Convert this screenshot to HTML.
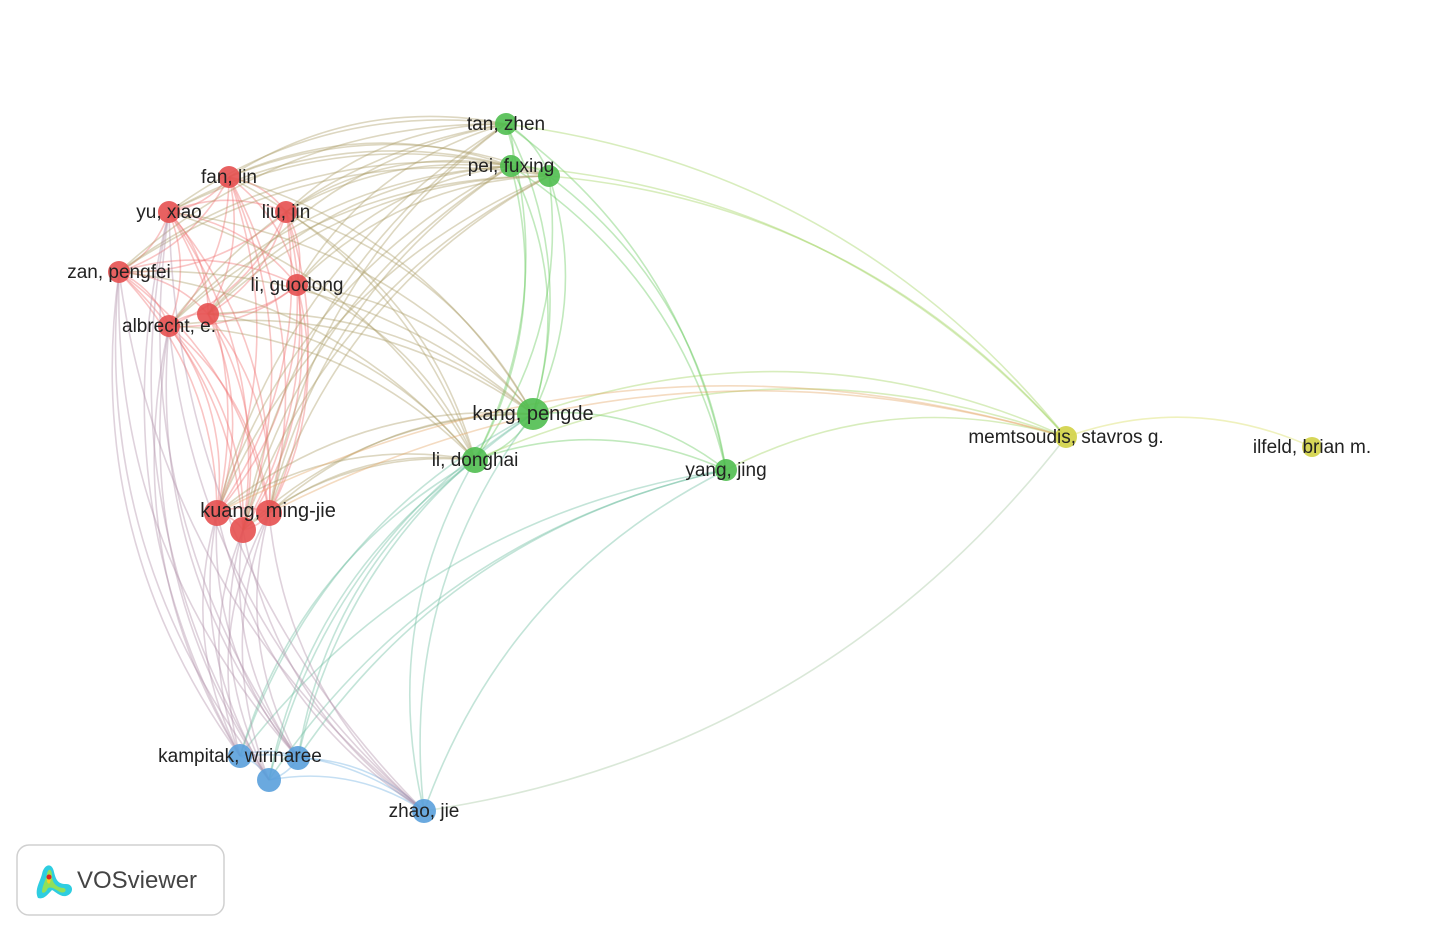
<!DOCTYPE html>
<html><head><meta charset="utf-8">
<style>
html,body{margin:0;padding:0;background:#fff;}
svg{display:block;}
text{font-family:"Liberation Sans",sans-serif;font-size:19px;fill:#222;}
</style></head>
<body>
<svg id="s" width="1431" height="934" viewBox="0 0 1431 934" xmlns="http://www.w3.org/2000/svg">
<g id="edges" fill="none"></g>
<g id="nodes"></g>
<g id="labels"></g>
<rect x="17" y="845" width="207" height="70" rx="12" fill="#fff" stroke="#d0d0d0" stroke-width="1.5"/>
<g transform="translate(34,860)">
<path d="M4,38 C0,30 6,22 8,14 C10,4 18,2 20,12 C22,20 24,24 32,24 C40,24 40,34 32,36 C26,37 22,32 18,30 C14,34 10,40 4,38Z" fill="#2ecde0"/>
<path d="M8,32 C8,26 12,20 13,14 C14,8 18,8 18,16 C18,22 22,28 30,28 C34,30 30,34 26,32 C22,30 18,26 14,28 C12,32 10,34 8,32Z" fill="#8fe05a"/>
<path d="M13,22 C13,18 15,12 16,14 C17,18 17,22 15,24Z" fill="#f5d020"/>
<circle cx="15" cy="17" r="2.5" fill="#e02020"/>
</g>
<text x="77" y="888" style="font-size:24px;fill:#444">VOSviewer</text>
</svg>
<script>
var N={
fan:[229,177,'r',11],yu:[169,212,'r',11],liu:[286,212,'r',11],zan:[119,272,'r',11],gd:[297,285,'r',11],al:[169,326,'r',11],r2:[208,314,'r',11],
k1:[217,513,'r',13],k2:[269,513,'r',13],k3:[243,530,'r',13],
tan:[506,124,'g',11],pei:[511,166,'g',11],p2:[549,176,'g',11],kang:[533,414,'g',16],ld:[475,460,'g',13],yang:[726,470,'g',11],
mem:[1066,437,'y',11],ilf:[1312,447,'y',10],
b1:[240,756,'b',12],b2:[298,758,'b',12],b3:[269,780,'b',12],zhao:[424,811,'b',12]};
var C={r:[240,110,110],g:[100,200,90],y:[215,220,90],b:[110,175,225]};
var red=['fan','yu','liu','zan','gd','al','r2','k1','k2','k3'],grn=['tan','pei','p2','kang','ld','yang'],blu=['b1','b2','b3','zhao'];
var E=[];
function all(a){for(var i=0;i<a.length;i++)for(var j=i+1;j<a.length;j++)E.push([a[i],a[j]]);}
all(red);all(grn);all(blu);
red.forEach(function(r){['tan','pei','p2','kang','ld'].forEach(function(g){E.push([r,g]);});});
['tan','pei','p2','kang','ld','yang'].forEach(function(g){E.push([g,'mem']);});
E.push(['mem','ilf'],['mem','zhao'],['k1','mem'],['k2','mem']);
blu.forEach(function(b){['kang','ld','yang','k1','k2','k3','al','zan','yu'].forEach(function(g){E.push([b,g]);});});
var eg=document.getElementById('edges'),ng=document.getElementById('nodes'),lg=document.getElementById('labels');
var ns='http://www.w3.org/2000/svg';
E.forEach(function(e){
 var a=N[e[0]],b=N[e[1]];var dx=b[0]-a[0],dy=b[1]-a[1];
 var mx=(a[0]+b[0])/2,my=(a[1]+b[1])/2;var k=0.2;
 var cx=mx+dy*k,cy=my-dx*k;
 var ca=C[a[2]],cb=C[b[2]];
 var c='rgb('+Math.round((ca[0]+cb[0])/2)+','+Math.round((ca[1]+cb[1])/2)+','+Math.round((ca[2]+cb[2])/2)+')';
 var p=document.createElementNS(ns,'path');
 p.setAttribute('d','M'+a[0]+','+a[1]+' Q'+cx+','+cy+' '+b[0]+','+b[1]);
 p.setAttribute('stroke',c);p.setAttribute('stroke-opacity','0.4');p.setAttribute('stroke-width','1.6');
 eg.appendChild(p);
});
for(var k in N){var n=N[k],c=C[n[2]];
 var cc=n[2]=='r'?'230,80,80':n[2]=='g'?'80,190,80':n[2]=='y'?'210,210,70':'90,160,220';
 var ci=document.createElementNS(ns,'circle');
 ci.setAttribute('cx',n[0]);ci.setAttribute('cy',n[1]);ci.setAttribute('r',n[3]);
 ci.setAttribute('fill','rgb('+cc+')');ci.setAttribute('fill-opacity','0.9');ng.appendChild(ci);}
var L=[['tan, zhen',506,124],['pei, fuxing',511,166],['fan, lin',229,177],['yu, xiao',169,212],['liu, jin',286,212],['zan, pengfei',119,272],['li, guodong',297,285],['albrecht, e.',169,326],['kang, pengde',533,414],['li, donghai',475,460],['yang, jing',726,470],['memtsoudis, stavros g.',1066,437],['ilfeld, brian m.',1312,447],['kuang, ming-jie',268,511],['kampitak, wirinaree',240,756],['zhao, jie',424,811]];
L.forEach(function(l){var t=document.createElementNS(ns,'text');t.setAttribute('x',l[1]);t.setAttribute('y',l[2]+6);t.setAttribute('text-anchor','middle');
 if(l[0]=='kang, pengde'||l[0]=='kuang, ming-jie')t.setAttribute('style','font-size:20px');
 t.textContent=l[0];lg.appendChild(t);});
</script>
</body></html>
